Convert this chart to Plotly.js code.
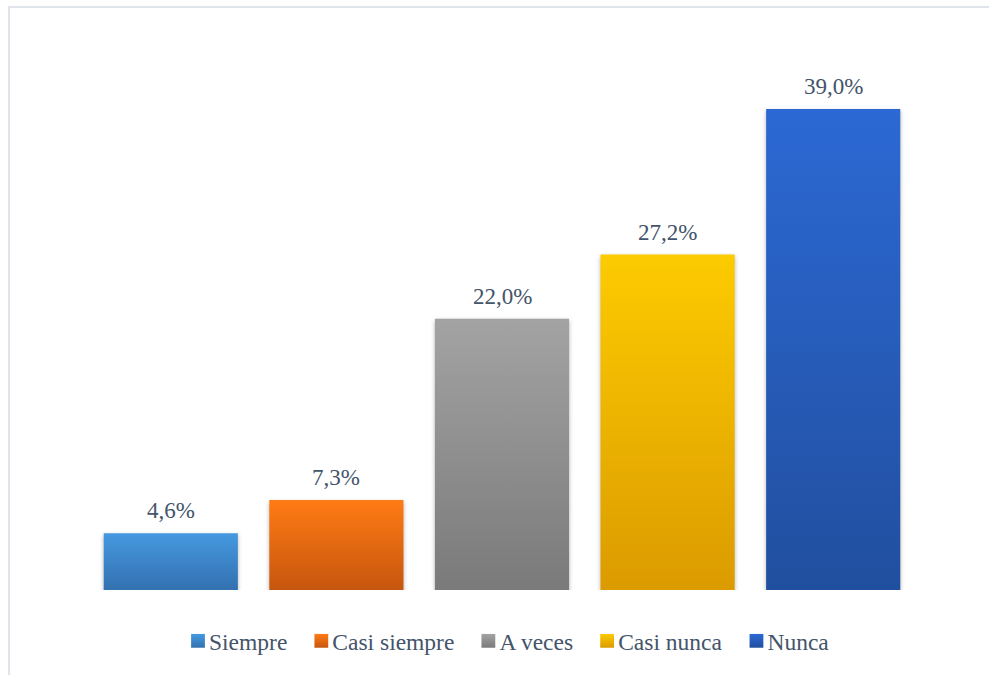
<!DOCTYPE html>
<html>
<head>
<meta charset="utf-8">
<script src="https://cdn.plot.ly/plotly-3.0.1.min.js"></script>
<style>
html,body{margin:0;padding:0;background:#fff;overflow:hidden;width:989px;height:675px;}
#chart{position:absolute;left:0;top:0;width:989px;height:675px;}
#frame{position:absolute;left:8px;top:6px;width:1000px;height:700px;border:2px solid #e0e5ec;pointer-events:none;}
.barlayer .point path{filter:drop-shadow(0px 2px 2px rgba(0,0,0,0.30));}
</style>
</head>
<body>
<div id="chart"></div>
<div id="frame"></div>
<script>
const categories = ['Siempre', 'Casi siempre', 'A veces', 'Casi nunca', 'Nunca'];
const values = [4.6, 7.3, 22.0, 27.2, 39.0];
const colorsTop = ['#4599e0', '#ff7b14', '#a3a3a3', '#fdcb00', '#2c69d4'];
const colorsBottom = ['#3371b0', '#c6560f', '#7a7a7a', '#db9b00', '#214f9f'];

const fontFamily = 'Liberation Serif, Times New Roman, serif';
const textColor = '#44546a';

const traces = categories.map((c, i) => ({
  type: 'bar',
  name: c,
  x: [c],
  y: [values[i]],
  width: 0.81,
  marker: {color: colorsTop[i], line: {width: 0}},
  hoverinfo: 'skip'
}));

const annotations = categories.map((c, i) => ({
  x: c,
  y: values[i],
  xref: 'x',
  yref: 'y',
  text: values[i].toFixed(1).replace('.', ',') + '%',
  showarrow: false,
  yanchor: 'bottom',
  yshift: 8,
  font: {family: fontFamily, size: 23, color: textColor}
}));

const layout = {
  width: 989,
  height: 675,
  margin: {l: 88, r: 73, t: 35, b: 85},
  paper_bgcolor: 'rgba(0,0,0,0)',
  plot_bgcolor: 'rgba(0,0,0,0)',
  barmode: 'overlay',
  showlegend: true,
  font: {family: fontFamily, color: textColor},
  legend: {
    orientation: 'h',
    x: 0.5,
    xanchor: 'center',
    y: -0.092,
    yanchor: 'middle',
    font: {family: fontFamily, size: 23.5, color: textColor},
    traceorder: 'normal'
  },
  xaxis: {
    type: 'category',
    categoryorder: 'array',
    categoryarray: categories,
    range: [-0.5, 4.5],
    showticklabels: false,
    showline: false,
    showgrid: false,
    zeroline: false,
    ticks: ''
  },
  yaxis: {
    range: [0, 45],
    visible: false,
    showgrid: false,
    zeroline: false
  },
  annotations: annotations
};

Plotly.newPlot('chart', traces, layout, {displayModeBar: false, staticPlot: true}).then(function(gd) {
  const svgNS = 'http://www.w3.org/2000/svg';
  const svg = gd.querySelector('svg.main-svg');
  let defs = svg.querySelector('defs');
  if (!defs) { defs = document.createElementNS(svgNS, 'defs'); svg.insertBefore(defs, svg.firstChild); }
  categories.forEach((c, i) => {
    const g = document.createElementNS(svgNS, 'linearGradient');
    g.setAttribute('id', 'grad' + i);
    g.setAttribute('x1', '0'); g.setAttribute('y1', '0');
    g.setAttribute('x2', '0'); g.setAttribute('y2', '1');
    const s1 = document.createElementNS(svgNS, 'stop');
    s1.setAttribute('offset', '0'); s1.setAttribute('stop-color', colorsTop[i]);
    const s2 = document.createElementNS(svgNS, 'stop');
    s2.setAttribute('offset', '1'); s2.setAttribute('stop-color', colorsBottom[i]);
    g.appendChild(s1); g.appendChild(s2);
    defs.appendChild(g);
  });
  gd.querySelectorAll('.barlayer .trace').forEach((t, i) => {
    t.querySelectorAll('.point path').forEach(p => { p.style.fill = 'url(#grad' + i + ')'; });
  });
  gd.querySelectorAll('.legend .traces').forEach((t, i) => {
    const lp = t.querySelector('.legendpoints');
    if (lp) lp.setAttribute('transform', 'translate(6,0) scale(1.15)');
    t.querySelectorAll('.legendpoints path').forEach(p => { p.style.fill = 'url(#grad' + i + ')'; });
  });
});
</script>
</body>
</html>
